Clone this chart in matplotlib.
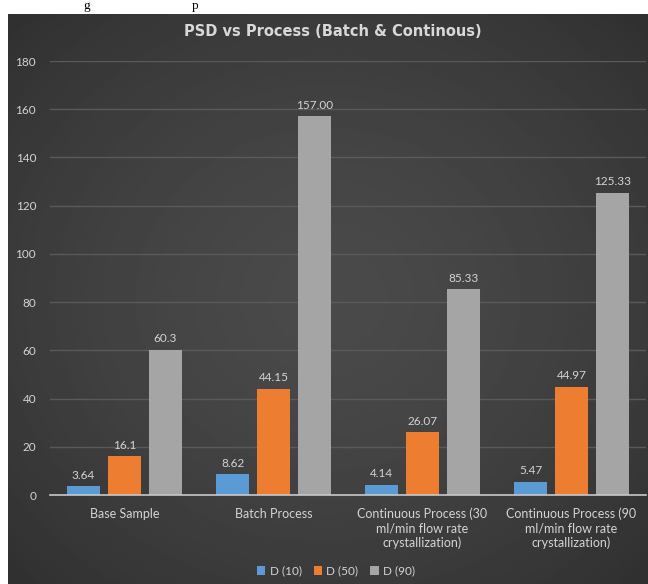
import numpy as np
import matplotlib
matplotlib.use("Agg")
import matplotlib.pyplot as plt

# particle size distribution per process
categories = ["Base Sample", "Batch Process",
              "Continuous Process (30\nml/min flow rate\ncrystallization)",
              "Continuous Process (90\nml/min flow rate\ncrystallization)"]
series = ["D (10)", "D (50)", "D (90)"]
d10 = [3.64, 8.62, 4.14, 5.47]
d50 = [16.1, 44.15, 26.07, 44.97]
d90 = [60.3, 157.00, 85.33, 125.33]
d10_labels = ["3.64", "8.62", "4.14", "5.47"]
d50_labels = ["16.1", "44.15", "26.07", "44.97"]
d90_labels = ["60.3", "157.00", "85.33", "125.33"]
yticks = [0, 20, 40, 60, 80, 100, 120, 140, 160, 180]

colors = ["#5B9BD5", "#ED7D31", "#A5A5A5"]
txt = "#D4D4D4"

plt.rcParams['font.family'] = ['Lato', 'DejaVu Sans']

fig = plt.figure(figsize=(6.48, 5.84), dpi=100)
fig.patch.set_facecolor("white")

# dark chart area with a soft radial shading
W, H = 648, 584
x0, y0 = 8, 14
bg = fig.add_axes([x0 / W, 0, 1 - x0 / W, 1 - y0 / H])
gx, gy = np.meshgrid(np.linspace(-1, 1, 300), np.linspace(-1, 1, 300))
r = np.sqrt(gx ** 2 + gy ** 2)
shade = 0.29 - 0.10 * np.clip(r / 1.4, 0, 1) ** 1.5
bg.imshow(shade, cmap="gray", vmin=0, vmax=1, aspect="auto", extent=[0, 1, 0, 1])
bg.set_axis_off()

# caption fragments above the chart
fig.text(83 / W, 1.0, "g", family="Liberation Serif", fontsize=9.5, color="black", va="top")
fig.text(192 / W, 1.0, "p", family="Liberation Serif", fontsize=9.5, color="black", va="top")

ax = fig.add_axes([50 / W, 1 - 495 / H, 596 / W, (495 - 61) / H])
ax.set_facecolor("none")
ax.set_zorder(2)

x = np.arange(len(categories))
w = 0.22
step = 0.275
for i, (vals, labs) in enumerate(zip([d10, d50, d90], [d10_labels, d50_labels, d90_labels])):
    pos = x + (i - 1) * step
    bars = ax.bar(pos, vals, width=w, color=colors[i], label=series[i], zorder=3)
    for b, lab in zip(bars, labs):
        ax.annotate(lab, (b.get_x() + b.get_width() / 2, b.get_height()),
                    xytext=(0, 4), textcoords="offset points", ha="center", va="bottom",
                    fontsize=8.5, color=txt)

ax.set_xlim(-0.5, len(categories) - 0.5)
ax.set_ylim(0, 180)
ax.set_yticks(yticks)
ax.yaxis.grid(True, color="#5A5A5A", linewidth=1.0, zorder=0)
ax.set_axisbelow(True)
for s in ["top", "right", "left"]:
    ax.spines[s].set_visible(False)
ax.spines["bottom"].set_color("#C8C8C8")
ax.spines["bottom"].set_linewidth(1.2)
ax.spines["bottom"].set_zorder(4)
ax.tick_params(axis="y", length=0, pad=10, labelsize=8.5, labelcolor=txt)
ax.tick_params(axis="x", length=0, pad=9, labelsize=9, labelcolor=txt)
ax.set_xticks(x)
ax.set_xticklabels(categories, linespacing=1.2)

fig.text(333 / W, 1 - 32 / H, "PSD vs Process (Batch & Continous)", ha="center", va="center",
         family="DejaVu Sans", fontsize=10.5, fontweight="bold", color="#D8D8D8")

leg = ax.legend(loc="center", bbox_to_anchor=(336 / W, 1 - 571 / H), bbox_transform=fig.transFigure,
                ncol=3, frameon=False, fontsize=8.5, handlelength=0.7, handleheight=0.7,
                handletextpad=0.4, columnspacing=1.0)
for t in leg.get_texts():
    t.set_color(txt)

fig.savefig("out.png", dpi=100)
